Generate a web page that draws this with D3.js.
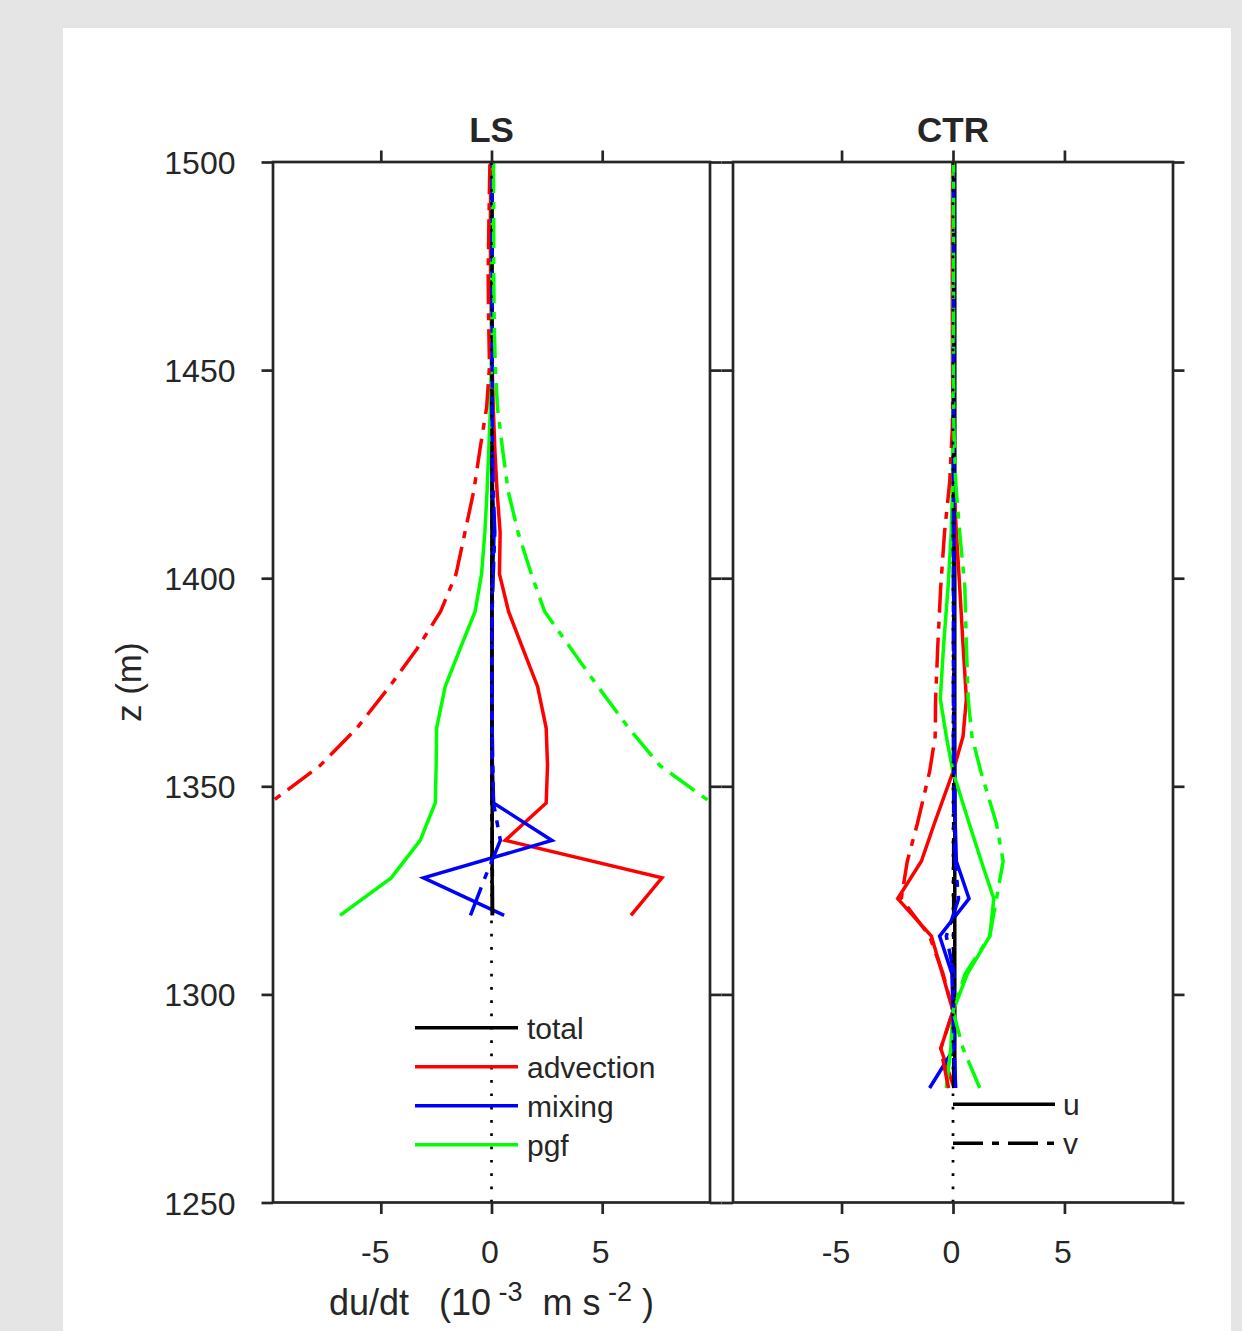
<!DOCTYPE html>
<html><head><meta charset="utf-8">
<script src="https://cdn.jsdelivr.net/npm/d3@7"></script>
<style>
body{margin:0;background:#e5e5e5;}
svg text{font-family:"Liberation Sans",Arial,Helvetica,sans-serif;fill:#262626;}
</style></head><body>
<svg id="chart" width="1242" height="1331"></svg>
<script>
// ---------------- DATA ----------------
const panelNames = ["LS", "CTR"];
const seriesNames = ["total", "advection", "mixing", "pgf"];
const componentNames = ["u", "v"];
const xTickValues = [-5, 0, 5];
const yTickValues = [1250, 1300, 1350, 1400, 1450, 1500];
const xLabelParts = ["du/dt   (10", " -3", "  m s", " -2", " )"];
const yLabelText = "z (m)";

// LS panel levels (m) and tendencies (10^-3 m s^-2)
const zLS = [1319, 1328, 1337, 1346, 1355, 1364, 1374, 1383, 1392, 1401, 1411, 1421, 1431, 1441, 1451, 1462, 1473, 1485, 1497, 1509];
const lsTotalU = [0.03, 0.03, 0.03, 0.03, 0.02, 0.02, 0.02, 0.02, 0.02, 0.02, 0.02, 0.02, 0.02, 0.02, 0.02, 0.02, 0.02, 0.02, 0.02, 0.02];
const lsTotalV = [0.05, 0.04, 0.03, 0.02, 0.02, 0.02, 0.02, 0.02, 0.02, 0.02, 0.03, 0.03, 0.02, 0.02, 0.02, 0.02, 0.02, 0.02, 0.02, 0.02];
const lsAdvU = [6.3, 7.7, 0.62, 2.47, 2.53, 2.47, 2.08, 1.42, 0.77, 0.36, 0.39, 0.25, 0.15, 0.08, 0.03, 0.0, -0.04, -0.05, -0.03, -0.02];
const lsAdvV = [-14.0, -12.6, -11.3, -10.0, -7.74, -6.08, -4.6, -3.37, -2.3, -1.6, -1.2, -0.8, -0.52, -0.22, -0.09, -0.13, -0.15, -0.12, -0.08, -0.05];
const lsMixU = [0.57, -3.07, 2.73, 0.09, 0.04, 0.02, 0.01, 0.01, 0.01, 0.05, 0.12, 0.05, 0.02, 0.01, 0.01, 0.01, 0.01, 0.01, 0.01, 0.01];
const lsMixV = [-0.95, -0.3, 0.4, 0.09, 0.06, 0.03, 0.02, 0.02, 0.03, 0.08, 0.15, 0.08, 0.04, 0.03, 0.03, 0.03, 0.03, 0.03, 0.03, 0.03];
const lsPgfU = [-6.84, -4.53, -3.22, -2.54, -2.5, -2.48, -2.09, -1.42, -0.74, -0.45, -0.3, -0.2, -0.12, -0.05, -0.01, 0.0, 0.01, 0.01, 0.01, 0.01];
const lsPgfV = [14.0, 12.6, 11.2, 9.95, 7.6, 6.2, 4.8, 3.6, 2.4, 1.8, 1.2, 0.75, 0.5, 0.27, 0.17, 0.12, 0.1, 0.1, 0.09, 0.09];

// CTR panel levels (m) and tendencies (10^-3 m s^-2)
const zCTR = [1277.5, 1287, 1296, 1305, 1314, 1323, 1332, 1341, 1353.5, 1362, 1371, 1384, 1398, 1411, 1423, 1436, 1450, 1465, 1480, 1495, 1510];
const ctrTotalU = [0.08, 0.08, 0.08, 0.08, 0.08, 0.08, 0.08, 0.08, 0.08, 0.08, 0.08, 0.08, 0.08, 0.08, 0.08, 0.08, 0.08, 0.08, 0.08, 0.08, 0.08];
const ctrTotalV = [0.03, 0.03, 0.03, 0.03, 0.03, 0.03, 0.03, 0.03, 0.03, 0.03, 0.03, 0.03, 0.03, 0.03, 0.03, 0.03, 0.03, 0.03, 0.03, 0.03, 0.03];
const ctrAdvU = [0.05, -0.55, 0.0, -0.48, -0.97, -2.48, -1.42, -0.84, 0.0, 0.45, 0.6, 0.45, 0.3, 0.15, 0.03, 0.0, -0.02, -0.03, -0.03, -0.02, 0.0];
const ctrAdvV = [-0.2, -0.55, 0.0, -0.45, -1.05, -2.32, -2.05, -1.6, -1.05, -0.8, -0.78, -0.68, -0.55, -0.38, -0.15, -0.03, 0.0, 0.0, 0.0, 0.0, 0.0];
const ctrMixU = [-1.05, 0.05, 0.0, -0.05, -0.6, 0.72, 0.15, 0.1, 0.07, 0.05, 0.04, 0.04, 0.03, 0.03, 0.03, 0.03, 0.03, 0.03, 0.03, 0.03, 0.03];
const ctrMixV = [0.12, 0.05, 0.0, 0.05, -0.3, 0.25, 0.1, 0.05, 0.03, 0.02, 0.02, 0.02, 0.02, 0.02, 0.02, 0.02, 0.02, 0.02, 0.02, 0.02, 0.02];
const ctrPgfU = [-0.3, -0.1, 0.0, 0.65, 1.65, 1.83, 1.27, 0.73, 0.0, -0.3, -0.57, -0.42, -0.22, -0.08, -0.02, 0.0, 0.0, 0.0, 0.0, 0.0, 0.0];
const ctrPgfV = [1.2, 0.45, 0.0, 0.55, 1.65, 1.95, 2.25, 1.95, 1.25, 0.85, 0.68, 0.6, 0.53, 0.3, 0.12, 0.04, 0.02, 0.02, 0.02, 0.02, 0.02];

// ---------------- LAYOUT / STYLE ----------------
const seriesColors = ["#000000", "#ff0000", "#0000ff", "#00ff00"];
const axisColor = "#262626";
const dashDot = "30,9,7,9";
const lineW = 3.5;
const axisW = 2.7;
const tickLen = 11.5;

const svg = d3.select("#chart");
svg.append("rect").attr("x", 0).attr("y", 0).attr("width", 1242).attr("height", 1331).attr("fill", "#e5e5e5");
svg.append("rect").attr("x", 63).attr("y", 28).attr("width", 1168).attr("height", 1303).attr("fill", "#ffffff");

const yScale = d3.scaleLinear().domain([1250, 1500]).range([1202.5, 162]);
const xRanges = [[273, 710], [733, 1173]];
const xDomain = [-9.87, 9.87];

const panels = [
  { name: panelNames[0], z: zLS,
    u: [lsTotalU, lsAdvU, lsMixU, lsPgfU],
    v: [lsTotalV, lsAdvV, lsMixV, lsPgfV] },
  { name: panelNames[1], z: zCTR,
    u: [ctrTotalU, ctrAdvU, ctrMixU, ctrPgfU],
    v: [ctrTotalV, ctrAdvV, ctrMixV, ctrPgfV] }
];

panels.forEach((p, pi) => {
  const x = d3.scaleLinear().domain(xDomain).range(xRanges[pi]);
  const [x0, x1] = xRanges[pi];
  const yTop = yScale(1500), yBot = yScale(1250);

  const clipId = "clip" + pi;
  svg.append("clipPath").attr("id", clipId)
    .append("rect").attr("x", x0).attr("y", yTop).attr("width", x1 - x0).attr("height", yBot - yTop);

  const plot = svg.append("g").attr("clip-path", `url(#${clipId})`);
  const line = d3.line().x(d => x(d[0])).y(d => yScale(d[1]));

  // u (solid) then v (dash-dot)
  [["u", null], ["v", dashDot]].forEach(([comp, dash]) => {
    p[comp].forEach((vals, si) => {
      plot.append("path")
        .datum(vals.map((v, i) => [v, p.z[i]]))
        .attr("d", line)
        .attr("fill", "none")
        .attr("stroke", seriesColors[si])
        .attr("stroke-width", lineW)
        .attr("stroke-linejoin", "miter")
        .attr("stroke-dasharray", dash);
    });
  });

  // legends
  const legG = svg.append("g");
  if (pi === 0) {
    const lx0 = 415, lx1 = 518, ly0 = 1027.7, dy = 39;
    seriesNames.forEach((n, i) => {
      const yy = ly0 + i * dy;
      legG.append("line").attr("x1", lx0).attr("x2", lx1).attr("y1", yy).attr("y2", yy)
        .attr("stroke", seriesColors[i]).attr("stroke-width", lineW);
      legG.append("text").attr("x", 527).attr("y", yy + 11).attr("font-size", 30).text(n);
    });
  } else {
    const lx0 = 953, lx1 = 1055, ly0 = 1104.3, dy = 39;
    componentNames.forEach((n, i) => {
      const yy = ly0 + i * dy;
      legG.append("line").attr("x1", lx0).attr("x2", lx1).attr("y1", yy).attr("y2", yy)
        .attr("stroke", "#000").attr("stroke-width", lineW)
        .attr("stroke-dasharray", i === 1 ? dashDot : null);
      legG.append("text").attr("x", 1063).attr("y", yy + 11).attr("font-size", 30).text(n);
    });
  }

  // zero dotted reference line
  plot.append("path")
    .datum([[0, 1250], [0, 1500]])
    .attr("d", line)
    .attr("fill", "none")
    .attr("stroke", "#000")
    .attr("stroke-width", 2.7)
    .attr("stroke-dasharray", "2.7,10.6");

  // axes
  const styleAxis = g => {
    g.select(".domain").remove();
    g.selectAll(".tick line").attr("stroke", axisColor).attr("stroke-width", axisW);
    g.selectAll(".tick text").attr("fill", axisColor).attr("font-size", 32)
      .attr("font-family", "Liberation Sans, Arial, sans-serif");
  };
  const fmt = d => d < 0 ? "-" + Math.abs(d) : String(d);

  svg.append("g").attr("transform", `translate(0,${yBot})`)
    .call(d3.axisBottom(x).tickValues(xTickValues).tickSize(tickLen).tickSizeOuter(0).tickPadding(26).tickFormat(fmt))
    .call(styleAxis)
    .call(g => g.selectAll(".tick text").attr("dx", d => d < 0 ? -6 : -2));
  svg.append("g").attr("transform", `translate(0,${yTop})`)
    .call(d3.axisTop(x).tickValues(xTickValues).tickSize(tickLen).tickSizeOuter(0).tickFormat(""))
    .call(styleAxis);
  svg.append("g").attr("transform", `translate(${x0},0)`)
    .call(d3.axisLeft(yScale).tickValues(yTickValues).tickSize(tickLen).tickSizeOuter(0).tickPadding(26)
      .tickFormat(pi === 0 ? d3.format("d") : ""))
    .call(styleAxis)
    .call(g => g.selectAll(".tick text").attr("dy", "0.36em"));
  svg.append("g").attr("transform", `translate(${x1},0)`)
    .call(d3.axisRight(yScale).tickValues(yTickValues).tickSize(tickLen).tickSizeOuter(0).tickFormat(""))
    .call(styleAxis);

  // frame
  svg.append("rect").attr("x", x0).attr("y", yTop).attr("width", x1 - x0).attr("height", yBot - yTop)
    .attr("fill", "none").attr("stroke", axisColor).attr("stroke-width", axisW);

  // title
  svg.append("text").attr("x", (x0 + x1) / 2).attr("y", 142).attr("text-anchor", "middle")
    .attr("font-size", 35).attr("font-weight", "bold").attr("fill", "#000").text(p.name);
});

// x label (under LS panel)
const xl = svg.append("text").attr("x", (xRanges[0][0] + xRanges[0][1]) / 2).attr("y", 1315)
  .attr("text-anchor", "middle").attr("font-size", 36).style("white-space", "pre");
xLabelParts.forEach((t, i) => {
  const sup = i % 2 === 1;
  xl.append("tspan").attr("font-size", sup ? 27 : 36)
    .attr("dy", i === 0 ? 0 : (sup ? -14 : 14)).text(t);
});

// y label
svg.append("text").attr("transform", `translate(141,${(yScale(1250) + yScale(1500)) / 2}) rotate(-90)`)
  .attr("text-anchor", "middle").attr("font-size", 35).text(yLabelText);
</script>
</body></html>
